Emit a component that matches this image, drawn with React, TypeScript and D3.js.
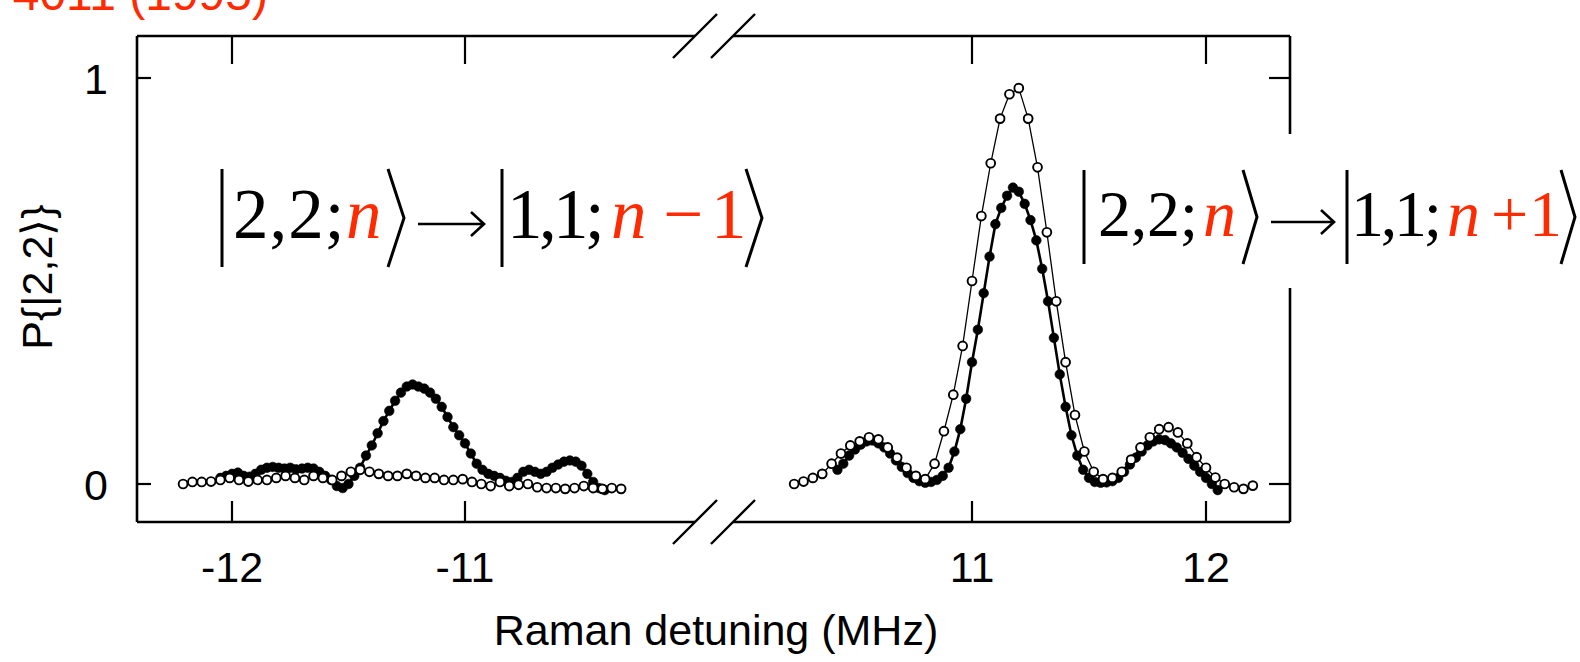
import React from "react";
import * as d3 from "d3";

const W = 1580;
const H = 662;

// Red sideband scan: filled = before cooling, open = after cooling
const leftOpenX = [-12.21, -12.17, -12.13, -12.09, -12.05, -12.01, -11.97, -11.93, -11.89, -11.85, -11.81, -11.77, -11.73, -11.69, -11.65, -11.61, -11.57, -11.53, -11.49, -11.45, -11.41, -11.37, -11.33, -11.29, -11.25, -11.21, -11.17, -11.13, -11.09, -11.05, -11.01, -10.97, -10.93, -10.89, -10.85, -10.81, -10.77, -10.73, -10.69, -10.65, -10.61, -10.57, -10.53, -10.49, -10.45, -10.41, -10.37, -10.33];
const leftOpenY = [0.0, 0.005, 0.005, 0.006, 0.01, 0.015, 0.01, 0.006, 0.01, 0.01, 0.015, 0.02, 0.015, 0.01, 0.02, 0.015, 0.01, 0.02, 0.03, 0.035, 0.03, 0.025, 0.02, 0.02, 0.025, 0.02, 0.015, 0.015, 0.01, 0.01, 0.012, 0.005, 0.0, -0.005, 0.005, -0.005, -0.002, 0.0, -0.008, -0.01, -0.01, -0.012, -0.01, -0.005, -0.01, -0.012, -0.01, -0.012];

const leftFilledX = [-12.05, -12.025, -12, -11.975, -11.95, -11.925, -11.9, -11.875, -11.85, -11.825, -11.8, -11.775, -11.75, -11.725, -11.7, -11.675, -11.65, -11.625, -11.6, -11.575, -11.55, -11.525, -11.5, -11.475, -11.45, -11.425, -11.4, -11.375, -11.35, -11.325, -11.3, -11.275, -11.25, -11.225, -11.2, -11.175, -11.15, -11.125, -11.1, -11.075, -11.05, -11.025, -11, -10.975, -10.95, -10.925, -10.9, -10.875, -10.85, -10.825, -10.8, -10.775, -10.75, -10.725, -10.7, -10.675, -10.65, -10.625, -10.6, -10.575, -10.55, -10.525, -10.5, -10.475, -10.45, -10.425, -10.4];
const leftFilledY = [0.015, 0.02, 0.025, 0.028, 0.02, 0.018, 0.025, 0.035, 0.04, 0.042, 0.04, 0.038, 0.04, 0.036, 0.038, 0.04, 0.038, 0.03, 0.02, 0.01, -0.005, -0.01, 0.0, 0.02, 0.04, 0.07, 0.095, 0.125, 0.155, 0.18, 0.205, 0.225, 0.24, 0.245, 0.24, 0.235, 0.225, 0.21, 0.19, 0.165, 0.14, 0.12, 0.1, 0.075, 0.05, 0.035, 0.025, 0.02, 0.015, 0.008, 0.005, 0.015, 0.03, 0.035, 0.03, 0.025, 0.03, 0.04, 0.048, 0.055, 0.058, 0.055, 0.045, 0.025, 0.005, -0.01, -0.015];

// Blue sideband scan
const rightOpenX = [10.24, 10.28, 10.32, 10.36, 10.4, 10.44, 10.48, 10.52, 10.56, 10.6, 10.64, 10.68, 10.72, 10.76, 10.8, 10.84, 10.88, 10.92, 10.96, 11.0, 11.04, 11.08, 11.12, 11.16, 11.2, 11.24, 11.28, 11.32, 11.36, 11.4, 11.44, 11.48, 11.52, 11.56, 11.6, 11.64, 11.68, 11.72, 11.76, 11.8, 11.84, 11.88, 11.92, 11.96, 12.0, 12.04, 12.08, 12.12, 12.16, 12.2];
const rightOpenY = [0.0, 0.006, 0.015, 0.025, 0.05, 0.075, 0.095, 0.105, 0.115, 0.11, 0.09, 0.065, 0.04, 0.02, 0.012, 0.05, 0.13, 0.22, 0.34, 0.5, 0.66, 0.79, 0.9, 0.96, 0.975, 0.9, 0.78, 0.62, 0.45, 0.3, 0.17, 0.08, 0.03, 0.012, 0.015, 0.03, 0.06, 0.09, 0.115, 0.135, 0.14, 0.127, 0.1, 0.066, 0.04, 0.016, 0.0, -0.008, -0.012, -0.004];

const rightFilledX = [10.425, 10.45, 10.475, 10.5, 10.525, 10.55, 10.575, 10.6, 10.625, 10.65, 10.675, 10.7, 10.725, 10.75, 10.775, 10.8, 10.825, 10.85, 10.875, 10.9, 10.925, 10.95, 10.975, 11.0, 11.025, 11.05, 11.075, 11.1, 11.125, 11.15, 11.175, 11.2, 11.225, 11.25, 11.275, 11.3, 11.325, 11.35, 11.375, 11.4, 11.425, 11.45, 11.475, 11.5, 11.525, 11.55, 11.575, 11.6, 11.625, 11.65, 11.675, 11.7, 11.725, 11.75, 11.775, 11.8, 11.825, 11.85, 11.875, 11.9, 11.925, 11.95, 11.975, 12.0, 12.025, 12.05];
const rightFilledY = [0.035, 0.05, 0.07, 0.085, 0.097, 0.105, 0.107, 0.1, 0.09, 0.075, 0.058, 0.042, 0.027, 0.015, 0.007, 0.003, 0.005, 0.01, 0.02, 0.04, 0.08, 0.135, 0.21, 0.3, 0.38, 0.47, 0.56, 0.64, 0.68, 0.71, 0.73, 0.72, 0.69, 0.65, 0.6, 0.53, 0.45, 0.36, 0.27, 0.19, 0.12, 0.07, 0.035, 0.015, 0.005, 0.003, 0.004, 0.007, 0.015, 0.03, 0.048, 0.065, 0.08, 0.095, 0.105, 0.11, 0.108, 0.1, 0.09, 0.077, 0.062, 0.045, 0.03, 0.015, 0.0, -0.015];

const leftTicks = [-12, -11];
const rightTicks = [11, 12];
const yTicks = [0, 1];

const RED = "#ff2a00";
const SANS = "'Liberation Sans', Arial, Helvetica, sans-serif";
const SERIF = "'Liberation Serif', 'Times New Roman', 'DejaVu Serif', serif";

// plot frame
const left = 137;
const right = 1290;
const top = 36;
const bottom = 522;
const gapL = 695;
const gapR = 733;

const xL = d3.scaleLinear().domain([-12, -11]).range([232, 465]);
const xR = d3.scaleLinear().domain([11, 12]).range([972, 1206]);
const y = d3.scaleLinear().domain([0, 1]).range([484, 78]);

type Pt = [number, number];
const zip = (xs: number[], ys: number[]): Pt[] => xs.map((v, i) => [v, ys[i]]);

function Series({ pts, sx, filled }: { pts: Pt[]; sx: d3.ScaleLinear<number, number>; filled: boolean }) {
  const line = d3
    .line<Pt>()
    .x((d) => sx(d[0]))
    .y((d) => y(d[1]));
  return (
    <g>
      <path d={line(pts) || ""} fill="none" stroke="#000" strokeWidth={filled ? 2.6 : 1.3} />
      {pts.map((d, i) => (
        <circle
          key={i}
          cx={sx(d[0])}
          cy={y(d[1])}
          r={filled ? 4.8 : 4.4}
          fill={filled ? "#000" : "#fff"}
          stroke="#000"
          strokeWidth={filled ? 0.6 : 1.9}
        />
      ))}
    </g>
  );
}

function BreakMarks({ cy }: { cy: number }) {
  return (
    <g stroke="#000" strokeWidth={2.4}>
      {[gapL, gapR].map((cx, i) => (
        <line key={i} x1={cx - 22} y1={cy + 22} x2={cx + 22} y2={cy - 22} />
      ))}
    </g>
  );
}

function Bra({ x, y1, y2 }: { x: number; y1: number; y2: number }) {
  return <line x1={x} x2={x} y1={y1} y2={y2} stroke="#000" strokeWidth={3} />;
}

function Ket({ x, w, y1, y2 }: { x: number; w: number; y1: number; y2: number }) {
  return (
    <path
      d={`M${x},${y1} L${x + w},${(y1 + y2) / 2} L${x},${y2}`}
      fill="none"
      stroke="#000"
      strokeWidth={3}
    />
  );
}

function Arrow({ x1, x2, cy }: { x1: number; x2: number; cy: number }) {
  return (
    <path
      d={`M${x1},${cy} L${x2},${cy} M${x2 - 13},${cy - 12} L${x2},${cy} L${x2 - 13},${cy + 12}`}
      fill="none"
      stroke="#000"
      strokeWidth={2.6}
    />
  );
}

function TransitionLabel({
  fs,
  base,
  y1,
  y2,
  pos,
  sp,
  sign,
}: {
  fs: number;
  base: number;
  y1: number;
  y2: number;
  pos: number[];
  sp: number[];
  sign: string;
}) {
  // pos: bar1, "2,2;", n, ket1, arrowStart, arrowEnd, bar2, "1,1;", n, sign, "1", ket2, ketWidth
  const [b1, t1, n1, k1, a1, a2, b2, t3, n2, sg, t5, k2, kw] = pos;
  return (
    <g fontFamily={SERIF} fontSize={fs}>
      <Bra x={b1} y1={y1} y2={y2} />
      <text y={base}>
        <tspan x={t1} letterSpacing={sp[0]}>2,2;</tspan>
        <tspan x={n1} fill={RED} fontStyle="italic">n</tspan>
      </text>
      <Ket x={k1} w={kw} y1={y1} y2={y2} />
      <Arrow x1={a1} x2={a2} cy={base - 14} />
      <Bra x={b2} y1={y1} y2={y2} />
      <text y={base}>
        <tspan x={t3} letterSpacing={sp[1]}>1,1;</tspan>
        <tspan x={n2} fill={RED} fontStyle="italic">n</tspan>
        <tspan x={sg} fill={RED}>{sign}</tspan>
        <tspan x={t5} fill={RED}>1</tspan>
      </text>
      <Ket x={k2} w={kw} y1={y1} y2={y2} />
    </g>
  );
}

export default function App() {
  const lo = zip(leftOpenX, leftOpenY);
  const lf = zip(leftFilledX, leftFilledY);
  const ro = zip(rightOpenX, rightOpenY);
  const rf = zip(rightFilledX, rightFilledY);

  return (
    <svg
      width={W}
      height={H}
      viewBox={`0 0 ${W} ${H}`}
      style={{ position: "absolute", left: 0, top: 0, background: "#fff" }}
    >
      <rect x={0} y={0} width={W} height={H} fill="#fff" />

      {/* citation, running off the top edge */}
      <text x={268} y={10} textAnchor="end" fontFamily={SANS} fontSize={48} fill={RED}>
        Monroe et al., PRL 75, 4011 (1995)
      </text>

      {/* frame */}
      <g stroke="#000" strokeWidth={2.6} fill="none">
        <line x1={left} x2={left} y1={top} y2={bottom} />
        <line x1={right} x2={right} y1={top} y2={bottom} />
        <line x1={left} x2={gapL} y1={top} y2={top} />
        <line x1={gapR} x2={right} y1={top} y2={top} />
        <line x1={left} x2={gapL} y1={bottom} y2={bottom} />
        <line x1={gapR} x2={right} y1={bottom} y2={bottom} />
      </g>
      <BreakMarks cy={top} />
      <BreakMarks cy={bottom} />

      {/* ticks */}
      <g stroke="#000" strokeWidth={2.2}>
        {leftTicks.map((t) => (
          <g key={"l" + t}>
            <line x1={xL(t)} x2={xL(t)} y1={bottom} y2={bottom - 21} />
            <line x1={xL(t)} x2={xL(t)} y1={top} y2={top + 28} />
          </g>
        ))}
        {rightTicks.map((t) => (
          <g key={"r" + t}>
            <line x1={xR(t)} x2={xR(t)} y1={bottom} y2={bottom - 21} />
            <line x1={xR(t)} x2={xR(t)} y1={top} y2={top + 28} />
          </g>
        ))}
        {yTicks.map((t) => (
          <g key={"y" + t}>
            <line x1={left} x2={left + 14} y1={y(t)} y2={y(t)} />
            <line x1={right} x2={right - 21} y1={y(t)} y2={y(t)} />
          </g>
        ))}
      </g>

      {/* tick labels */}
      <g fontFamily={SANS} fontSize={43} fill="#000" textAnchor="middle">
        {leftTicks.map((t) => (
          <text key={"lt" + t} x={xL(t)} y={582}>
            {String(t)}
          </text>
        ))}
        {rightTicks.map((t) => (
          <text key={"rt" + t} x={xR(t)} y={582}>
            {String(t)}
          </text>
        ))}
        {yTicks.map((t) => (
          <text key={"yt" + t} x={96} y={y(t) + 16}>
            {String(t)}
          </text>
        ))}
      </g>

      {/* axis titles */}
      <text x={716} y={645} textAnchor="middle" fontFamily={SANS} fontSize={43}>
        Raman detuning (MHz)
      </text>
      <text
        transform={`translate(52,277) rotate(-90)`}
        textAnchor="middle"
        fontFamily={SANS}
        fontSize={43}
      >
        P{"{"}|2,2⟩{"}"}
      </text>

      {/* data */}
      <Series pts={lf} sx={xL} filled />
      <Series pts={lo} sx={xL} filled={false} />
      <Series pts={rf} sx={xR} filled />
      <Series pts={ro} sx={xR} filled={false} />

      {/* transition labels */}
      <TransitionLabel
        fs={71}
        base={238}
        y1={169}
        y2={267}
        sign="−"
        sp={[1.0, -3.6]}
        pos={[222, 233, 346, 388, 418, 484, 502, 507, 611, 663, 711, 746, 16]}
      />
      <rect x={1068} y={134} width={512} height={154} fill="#fff" />
      <TransitionLabel
        fs={66}
        base={236}
        y1={170}
        y2={264}
        sign="+"
        sp={[-0.25, -3.25]}
        pos={[1084, 1098, 1203, 1243, 1271, 1334, 1347, 1351, 1447, 1491, 1529, 1561, 14]}
      />
    </svg>
  );
}
